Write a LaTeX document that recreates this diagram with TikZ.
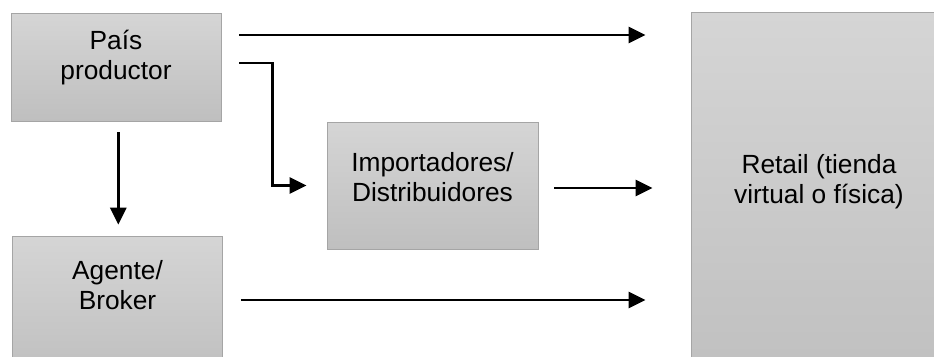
\documentclass[tikz,border=0pt]{standalone}
\usepackage{fontspec}
\setmainfont{Liberation Sans}
\usetikzlibrary{arrows.meta,calc}
\definecolor{boxtop}{RGB}{213,213,213}
\definecolor{boxbot}{RGB}{191,191,191}
\definecolor{boxborder}{RGB}{165,165,165}
\begin{document}
\begin{tikzpicture}[x=1pt,y=-1pt,
  box/.style={draw=boxborder, line width=0.8pt, top color=boxtop, bottom color=boxbot, inner sep=0pt},
  lbl/.style={align=center, font=\fontsize{26.3}{30}\selectfont, inner sep=0pt},
  arr/.style={line width=2.8pt, -{Triangle[length=17pt,width=16pt]}}]
\clip (0,0) rectangle (934,356);
\fill[white] (0,0) rectangle (934,356);
\node[box, minimum width=210pt, minimum height=108pt] (pais) at (116,67) {};
\node[lbl] (paist) at (116,58) {País\\productor};
\node[box, minimum width=211pt, minimum height=127pt] (imp) at (432.5,185.5) {};
\node[lbl] (impt) at (432.5,176.7) {Importadores/\\Distribuidores};
\node[box, minimum width=210pt, minimum height=140pt] (agente) at (117.5,306) {};
\node[lbl] (agentet) at (117.5,285.5) {Agente/\\Broker};
\node[box, minimum width=260pt, minimum height=380pt] (retail) at (821,202) {};
\node[lbl] (retailt) at (819,181.7) {Retail (tienda\\virtual o física)};
\draw[arr] ($(pais.east)+(18,-32)$) -- ($(retail.west|-pais.east)+(-45,-32)$);
\draw[arr] ($(pais.east)+(18,-4)$) -| ($(imp.west)+(-54.3,0)$) -- ($(imp.west)+(-20,0)$);
\draw[arr] ($(imp.east)+(16,2.5)$) -- ($(retail.west|-imp.east)+(-38,2.5)$);
\draw[arr] ($(agente.east)+(18,-6)$) -- ($(retail.west|-agente.east)+(-45,-6)$);
\draw[arr] ($(pais.south)+(2.3,10.7)$) -- ($(agente.north)+(0.8,-11)$);
\end{tikzpicture}
\end{document}
